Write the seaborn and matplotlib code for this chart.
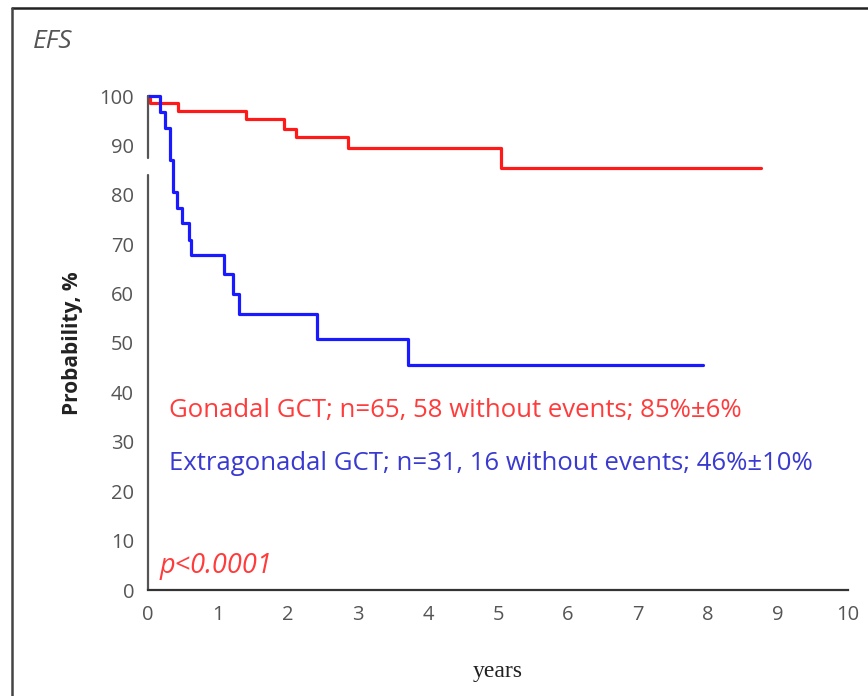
import numpy as np
import pandas as pd
import matplotlib
matplotlib.use("Agg")
import matplotlib.pyplot as plt
import seaborn as sns

# Kaplan-Meier EFS curves
gonadal_t = [0, 0.03, 0.43, 1.40, 1.94, 2.12, 2.85, 5.04, 8.75]
gonadal_p = [100, 98.5, 97.0, 95.3, 93.4, 91.6, 89.4, 85.5, 85.5]

extra_t = [0, 0.17, 0.24, 0.31, 0.36, 0.41, 0.48, 0.59, 0.62, 1.09, 1.22, 1.30, 2.41, 3.71, 7.93]
extra_p = [100, 96.8, 93.5, 87.0, 80.6, 77.4, 74.2, 70.9, 67.9, 64.0, 59.9, 55.9, 50.8, 45.5, 45.5]

x_ticks = list(range(0, 11))
y_ticks = list(range(0, 101, 10))

gonadal_label = "Gonadal GCT; n=65, 58 without events; 85%\u00b16%"
extra_label = "Extragonadal GCT; n=31, 16 without events; 46%\u00b110%"

sns.set_style("white")
plt.rcParams["font.family"] = ["Open Sans", "DejaVu Sans"]

fig = plt.figure(figsize=(8.68, 6.96), dpi=100)
ax = fig.add_axes([148 / 868, 1 - 590 / 696, 700 / 868, 494 / 696])

df_g = pd.DataFrame({"years": gonadal_t, "prob": gonadal_p})
df_e = pd.DataFrame({"years": extra_t, "prob": extra_p})
sns.lineplot(data=df_g, x="years", y="prob", ax=ax, color="#ff1a1a",
             lw=2.3, drawstyle="steps-post", sort=False, clip_on=False)
sns.lineplot(data=df_e, x="years", y="prob", ax=ax, color="#1a1aff",
             lw=2.3, drawstyle="steps-post", sort=False, clip_on=False)

ax.set_xlim(0, 10)
ax.set_ylim(0, 100)
ax.set_xticks(x_ticks)
ax.set_yticks(y_ticks)
ax.tick_params(axis="both", direction="out", length=6, width=1.6,
               color="#333333", labelcolor="#555555", labelsize=14.5, pad=4)
ax.tick_params(axis="x", pad=5)
for s in ["top", "right", "left"]:
    ax.spines[s].set_visible(False)
ax.spines["bottom"].set_color("#333333")
ax.spines["bottom"].set_linewidth(1.6)

# broken y-axis line
ax.axvline(0, ymin=0, ymax=0.84, color="#555555", lw=1.6, clip_on=False)
ax.axvline(0, ymin=0.875, ymax=1.0, color="#555555", lw=1.6, clip_on=False)

ax.set_xlabel("years", family=["Liberation Serif", "DejaVu Serif"],
              fontsize=17, color="#222222", labelpad=26)
ax.set_ylabel("Probability, %", fontsize=15, fontweight="bold",
              color="#222222", labelpad=12)

ax.text(0.3, 36.4, gonadal_label, color="#ff3b3b", fontsize=18.5,
        va="center", ha="left")
ax.text(0.3, 25.6, extra_label, color="#3a3ad0", fontsize=18.5,
        va="center", ha="left")
ax.text(0.16, 4.8, "p<0.0001", color="#ff3b3b", fontsize=19.5,
        style="italic", va="center", ha="left")

fig.text(33 / 868, 1 - 42 / 696, "EFS", color="#555555", fontsize=19,
         style="italic", va="center", ha="left")

# image border lines (top and left)
fig.add_artist(plt.Line2D([12 / 868, 1], [1 - 8 / 696, 1 - 8 / 696],
                          transform=fig.transFigure, color="#222222", lw=1.8))
fig.add_artist(plt.Line2D([12 / 868, 12 / 868], [0, 1 - 8 / 696],
                          transform=fig.transFigure, color="#444444", lw=1.8))

fig.savefig("out.png", dpi=100)
